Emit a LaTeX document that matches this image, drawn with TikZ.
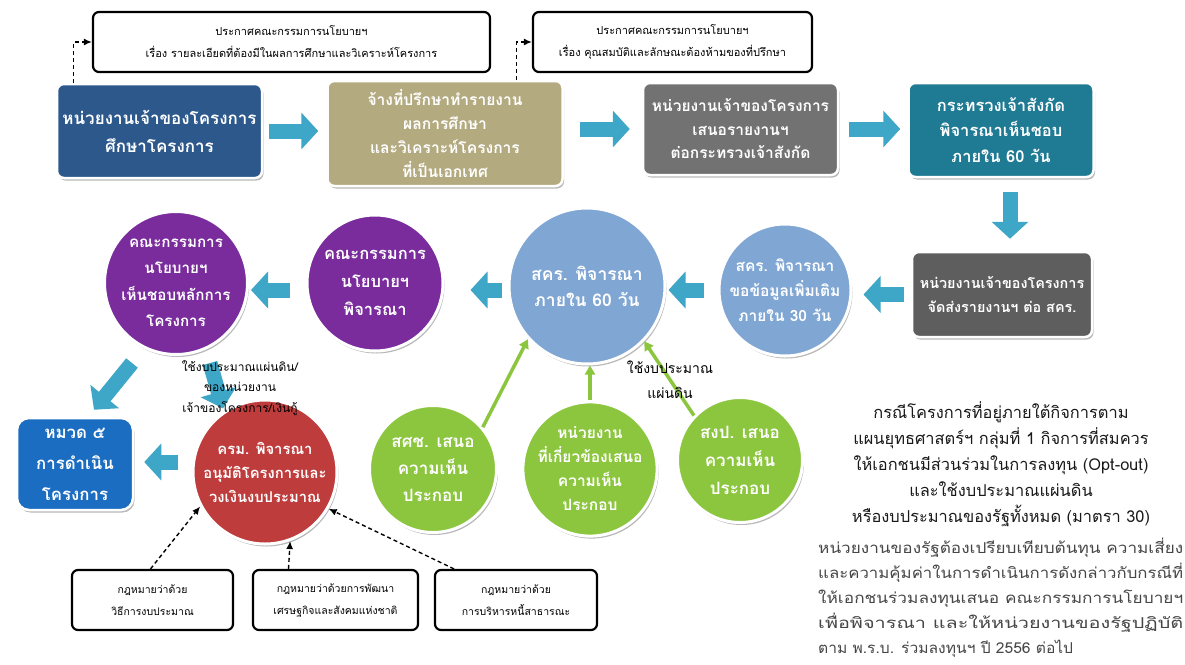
\documentclass[tikz,border=0pt]{standalone}
\usepackage{fontspec}
\newfontfamily\thai[Script=Thai]{Loma}
\usetikzlibrary{arrows.meta,shadows,calc}

\definecolor{cA}{RGB}{44,88,140}
\definecolor{cB}{RGB}{180,170,128}
\definecolor{cC}{RGB}{114,114,114}
\definecolor{cD}{RGB}{31,122,147}
\definecolor{cE}{RGB}{94,94,94}
\definecolor{cSky}{RGB}{128,166,212}
\definecolor{cPurple}{RGB}{122,43,156}
\definecolor{cJ}{RGB}{27,109,193}
\definecolor{cRed}{RGB}{190,60,60}
\definecolor{cGreen}{RGB}{140,198,63}
\definecolor{cArrow}{RGB}{62,166,198}
\definecolor{cBody}{RGB}{70,70,70}

\newcommand{\fs}[2]{\fontsize{#1}{#2}\selectfont}
% one line of the justified paragraph, spread to the full column width
\newcommand{\fullline}[1]{\resizebox{365pt}{\height}{#1}}

\begin{document}
\begin{tikzpicture}[x=1pt,y=-1pt,
  every node/.style={inner sep=0pt},
  shade/.style={drop shadow={shadow xshift=1.5pt,shadow yshift=-2.5pt,opacity=0.28,fill=black}},
  stagebox/.style={shade,draw=white,line width=2.5pt,rounded corners=7pt,text=white,align=center},
  disc/.style={shade,circle,draw=white,line width=3pt,text=white,align=center},
  notebox/.style={draw=black,line width=2.2pt,rounded corners=6pt,fill=white,align=center,
    font=\thai\fs{10.5}{22}},
  fat/.style={draw=cArrow,line width=15pt,-{Triangle[length=17pt,width=36pt]}},
  greenarrow/.style={draw=cGreen,line width=3.5pt,-{Triangle[length=9pt,width=10pt]}},
  dasharrow/.style={draw=black,line width=1.4pt,dash pattern=on 4pt off 3pt,-{Latex[length=8pt,width=7pt]}},
  smalllabel/.style={align=center,font=\thai\fs{12}{20.5}},
]
\useasboundingbox (0,0) rectangle (1185,664);
\clip (0,0) rectangle (1185,664);
\fill[white] (0,0) rectangle (1185,664);

% ---------- top row ----------
\node[notebox,font=\thai\fs{11}{22},minimum width=397,minimum height=60] (N1) at (291.5,42)
  {ประกาศคณะกรรมการนโยบายฯ\\เรื่อง รายละเอียดที่ต้องมีในผลการศึกษาและวิเคราะห์โครงการ};
\node[notebox,font=\thai\fs{11}{22},minimum width=279,minimum height=60] (N2) at (672.5,42)
  {ประกาศคณะกรรมการนโยบายฯ\\เรื่อง คุณสมบัติและลักษณะต้องห้ามของที่ปรึกษา};

\node[stagebox,fill=cA,minimum width=205,minimum height=94,font=\thai\bfseries\fs{17}{28}] (A) at (159.5,131)
  {หน่วยงานเจ้าของโครงการ\\ศึกษาโครงการ};
\node[stagebox,fill=cB,minimum width=235,minimum height=105,font=\thai\bfseries\fs{15.6}{24.3}] (B) at (445,133.5)
  {จ้างที่ปรึกษาทำรายงาน\\ผลการศึกษา\\และวิเคราะห์โครงการ\\ที่เป็นเอกเทศ};
\node[stagebox,fill=cC,minimum width=195,minimum height=92,font=\thai\bfseries\fs{15.5}{23.5}] (C) at (740.5,129)
  {หน่วยงานเจ้าของโครงการ\\เสนอรายงานฯ\\ต่อกระทรวงเจ้าสังกัด};
\node[stagebox,fill=cD,minimum width=185,minimum height=94,font=\thai\bfseries\fs{16.5}{25.5}] (D) at (1001,130)
  {กระทรวงเจ้าสังกัด\\พิจารณาเห็นชอบ\\ภายใน 60 วัน};
\node[stagebox,fill=cE,minimum width=180,minimum height=85,font=\thai\bfseries\fs{14.4}{24}] (E) at (1002,294.5)
  {หน่วยงานเจ้าของโครงการ\\จัดส่งรายงานฯ ต่อ สคร.};

% ---------- middle row ----------
\node[disc,fill=cSky,minimum size=132,font=\thai\bfseries\fs{15.5}{25}] (F) at (785,290)
  {สคร. พิจารณา\\ขอข้อมูลเพิ่มเติม\\ภายใน 30 วัน};
\node[disc,fill=cSky,minimum size=156,font=\thai\bfseries\fs{17.5}{26}] (G) at (587,286)
  {สคร. พิจารณา\\ภายใน 60 วัน};
\node[disc,fill=cPurple,minimum size=136,font=\thai\bfseries\fs{16.5}{28}] (H) at (375,283)
  {คณะกรรมการ\\นโยบายฯ\\พิจารณา};
\node[disc,fill=cPurple,minimum size=143,font=\thai\bfseries\fs{15.2}{26.5}] (I) at (176,283)
  {คณะกรรมการ\\นโยบายฯ\\เห็นชอบหลักการ\\โครงการ};

% ---------- bottom row ----------
\node[stagebox,fill=cJ,rounded corners=12pt,minimum width=116,minimum height=92,font=\thai\bfseries\fs{16.8}{31}] (J) at (75,464)
  {หมวด ๕\\การดำเนิน\\โครงการ};
\node[disc,fill=cRed,minimum size=144,font=\thai\bfseries\fs{14.8}{24}] (K) at (265,472)
  {ครม. พิจารณา\\อนุมัติโครงการและ\\วงเงินงบประมาณ};

\node[disc,fill=cGreen,minimum size=127,font=\thai\bfseries\fs{17}{27}] (M) at (433,469)
  {สศช. เสนอ\\ความเห็น\\ประกอบ};
\node[disc,fill=cGreen,minimum size=132,font=\thai\bfseries\fs{15.5}{24}] (N) at (590,469)
  {หน่วยงาน\\ที่เกี่ยวข้องเสนอ\\ความเห็น\\ประกอบ};
\node[disc,fill=cGreen,minimum size=125,font=\thai\bfseries\fs{17}{28}] (O) at (740,460)
  {สงป. เสนอ\\ความเห็น\\ประกอบ};

\node[notebox,minimum width=161,minimum height=60] (L1) at (152.5,600)
  {กฎหมายว่าด้วย\\วิธีการงบประมาณ};
\node[notebox,minimum width=165,minimum height=60] (L2) at (335.5,600)
  {กฎหมายว่าด้วยการพัฒนา\\เศรษฐกิจและสังคมแห่งชาติ};
\node[notebox,minimum width=162,minimum height=60] (L3) at (516,600)
  {กฎหมายว่าด้วย\\การบริหารหนี้สาธารณะ};

% ---------- flow arrows ----------
\draw[fat] ([xshift=6pt]A.east) -- ([xshift=-8pt]A.east -| B.west);
\draw[fat] ([xshift=16pt]B.east |- C.west) -- ([xshift=-12pt]C.west);
\draw[fat] ([xshift=10pt]C.east) -- ([xshift=-7pt]C.east -| D.west);
\draw[fat] ($(D.south)+(9,14)$) -- ($(E.north)+(8,-12)$);
\draw[fat] ($(E.west)+(-7,0)$) -- ($(E.west -| F.east)+(11,0)$);
\draw[fat] ($(F.west)+(-14,0)$) -- ($(F.west -| G.east)+(2,0)$);
\draw[fat] ($(G.west)+(-6,4)$) -- ($(G.west -| H.east)+(26,4)$);
\draw[fat] ($(H.west)+(-16,7)$) -- ($(H.west -| I.east)+(2,7)$);
\draw[fat] ($(I.center)+(-44,80)$) -- ($(J.north)+(19,-7)$);
\draw[fat] ($(I.center)+(34,80)$) -- ($(K.north)+(-42,10)$);
\draw[fat] ($(K.west)+(-14,-10)$) -- ($(J.east)+(10,-2)$);

% ---------- supporting opinions ----------
\draw[greenarrow] (M.40) -- (G.222);
\draw[greenarrow] (N.north) -- (N.north |- G.south);
\draw[greenarrow] (O.136) -- (G.316);

% ---------- regulations ----------
\draw[dasharrow] ([xshift=18pt]A.north west) |- (N1.west);
\draw[dasharrow] ([xshift=-47pt]B.north east) |- (N2.west);
\draw[dasharrow] ([xshift=-2pt]L1.north) -- (K.208);
\draw[dasharrow] ([xshift=-47pt]L2.north) -- (K.290);
\draw[dasharrow] ([xshift=-62pt]L3.north) -- (K.330);

% ---------- labels ----------
\node[smalllabel] (budget1) at (240,388)
  {ใช้งบประมาณแผ่นดิน/\\ของหน่วยงาน\\เจ้าของโครงการ/เงินกู้};
\node[smalllabel,font=\thai\fs{14}{25}] (budget2) at (670,380)
  {ใช้งบประมาณ\\แผ่นดิน};

\node[align=center,font=\thai\fs{16.4}{26},text=black!90] (case) at (1001,464)
  {กรณีโครงการที่อยู่ภายใต้กิจการตาม\\
   แผนยุทธศาสตร์ฯ กลุ่มที่ 1 กิจการที่สมควร\\
   ให้เอกชนมีส่วนร่วมในการลงทุน (Opt-out)\\
   และใช้งบประมาณแผ่นดิน\\
   หรืองบประมาณของรัฐทั้งหมด (มาตรา 30)};
\node[anchor=north west,align=left,font=\thai\fs{15}{25},text=cBody] (rule) at (818,538)
  {\fullline{หน่วยงานของรัฐต้องเปรียบเทียบต้นทุน ความเสี่ยง}\\
   \fullline{และความคุ้มค่าในการดำเนินการดังกล่าวกับกรณีที่}\\
   \fullline{ให้เอกชนร่วมลงทุนเสนอ คณะกรรมการนโยบายฯ}\\
   \fullline{เพื่อพิจารณา และให้หน่วยงานของรัฐปฏิบัติ}\\
   \scalebox{1.04}[1]{ตาม พ.ร.บ. ร่วมลงทุนฯ ปี 2556 ต่อไป}};
\end{tikzpicture}
\end{document}
